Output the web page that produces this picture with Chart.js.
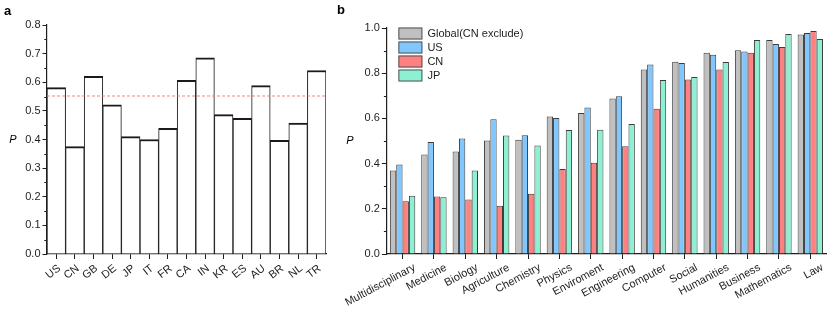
<!DOCTYPE html>
<html>
<head>
<meta charset="utf-8">
<script src="https://cdn.jsdelivr.net/npm/chart.js@4.4.1/dist/chart.umd.min.js"></script>
<style>
  html, body { margin: 0; padding: 0; background: #fff; }
  #wrap { position: relative; width: 831px; height: 315px; overflow: hidden; }
  #chart-a { position: absolute; left: 0; top: 0; }
  #chart-b { position: absolute; left: 330px; top: 0; }
</style>
</head>
<body>
<div id="wrap">
  <canvas id="chart-a" width="330" height="315"></canvas>
  <canvas id="chart-b" width="501" height="315"></canvas>
</div>
<script>
// panel a: share per country
const countries = ["US", "CN", "GB", "DE", "JP", "IT", "FR", "CA", "IN", "KR", "ES", "AU", "BR", "NL", "TR"];
const countryP = [0.581, 0.375, 0.621, 0.521, 0.410, 0.400, 0.439, 0.607, 0.685, 0.487, 0.474, 0.588, 0.397, 0.457, 0.641];
const countryRef = 0.552;

// panel b: share per field
const fields = ["Multidisciplinary", "Medicine", "Biology", "Agriculture", "Chemistry", "Physics", "Enviroment",
  "Engineering", "Computer", "Social", "Humanities", "Business", "Mathematics", "Law"];
const seriesNames = ["Global(CN exclude)", "US", "CN", "JP"];
const globalP = [0.369, 0.440, 0.454, 0.502, 0.506, 0.608, 0.624, 0.688, 0.816, 0.851, 0.891, 0.901, 0.947, 0.971];
const usP = [0.396, 0.496, 0.511, 0.596, 0.525, 0.602, 0.648, 0.698, 0.839, 0.845, 0.882, 0.896, 0.929, 0.978];
const cnP = [0.233, 0.254, 0.241, 0.214, 0.267, 0.376, 0.404, 0.477, 0.643, 0.772, 0.816, 0.890, 0.916, 0.987];
const jpP = [0.258, 0.251, 0.369, 0.524, 0.480, 0.549, 0.550, 0.575, 0.770, 0.783, 0.850, 0.947, 0.973, 0.951];

const FONT = "'Liberation Sans', Arial, sans-serif";
const INK = "#1e1e1e";
Chart.defaults.font.family = FONT;
Chart.defaults.font.size = 11;
Chart.defaults.color = INK;

// short ticks between the labelled ones
const minorTicks = {
  id: "minorTicks",
  afterDraw(chart, args, opts) {
    const y = chart.scales.y;
    const ctx = chart.ctx;
    ctx.save();
    ctx.strokeStyle = INK;
    ctx.lineWidth = 1;
    for (let v = y.min + opts.step / 2; v < y.max; v += opts.step) {
      const py = Math.round(y.getPixelForValue(v)) + 0.5;
      ctx.beginPath();
      ctx.moveTo(y.right - opts.length, py);
      ctx.lineTo(y.right, py);
      ctx.stroke();
    }
    ctx.restore();
  }
};

const panelText = {
  id: "panelText",
  afterDraw(chart, args, opts) {
    const ctx = chart.ctx;
    const area = chart.chartArea;
    ctx.save();
    ctx.fillStyle = "#000";
    ctx.font = "bold 13px " + FONT;
    ctx.textBaseline = "top";
    ctx.fillText(opts.letter, opts.letterX, opts.letterY);
    ctx.font = "italic 11px " + FONT;
    ctx.textBaseline = "middle";
    ctx.textAlign = "center";
    ctx.fillText("P", opts.titleX, (area.top + area.bottom) / 2);
    ctx.restore();
  }
};

const refLine = {
  id: "refLine",
  afterDatasetsDraw(chart, args, opts) {
    const ctx = chart.ctx;
    const area = chart.chartArea;
    const py = chart.scales.y.getPixelForValue(opts.value);
    ctx.save();
    ctx.strokeStyle = "rgba(240, 110, 110, 0.85)";
    ctx.lineWidth = 1;
    ctx.setLineDash([3, 2]);
    ctx.beginPath();
    ctx.moveTo(area.left, py);
    ctx.lineTo(area.right, py);
    ctx.stroke();
    ctx.restore();
  }
};

const boxLegend = {
  id: "boxLegend",
  afterDraw(chart, args, opts) {
    const ctx = chart.ctx;
    const x = chart.chartArea.left + opts.dx;
    let y = opts.top;
    ctx.save();
    ctx.font = "11px " + FONT;
    ctx.textBaseline = "middle";
    chart.data.datasets.forEach((ds) => {
      ctx.fillStyle = ds.backgroundColor;
      ctx.fillRect(x, y, 24, 12);
      ctx.strokeStyle = "#555";
      ctx.lineWidth = 1;
      ctx.strokeRect(x + 0.5, y + 0.5, 23, 11);
      ctx.fillStyle = INK;
      ctx.fillText(ds.label, x + 29, y + 6.5);
      y += 14;
    });
    ctx.restore();
  }
};

const axisBorder = { color: INK, width: 1.2 };

new Chart(document.getElementById("chart-a"), {
  type: "bar",
  data: {
    labels: countries,
    datasets: [{
      data: countryP,
      backgroundColor: "#fff",
      borderColor: "#1a1a1a",
      borderWidth: { top: 2, left: 1, right: 1, bottom: 0 },
      barPercentage: 1,
      categoryPercentage: 1
    }]
  },
  options: {
    responsive: false,
    animation: false,
    layout: { padding: { top: 25, right: 4, left: 0, bottom: 0 } },
    plugins: {
      legend: { display: false },
      tooltip: { enabled: false },
      refLine: { value: countryRef },
      minorTicks: { step: 0.1, length: 2.7 },
      panelText: { letter: "a", letterX: 4, letterY: 5, titleX: 13 }
    },
    scales: {
      x: {
        border: axisBorder,
        grid: { drawOnChartArea: false, offset: false, tickLength: 5, color: INK, tickWidth: 1 },
        ticks: { autoSkip: false, minRotation: 38, maxRotation: 38, padding: 3, labelOffset: 3 },
        afterFit: (scale) => { scale.height = 61; }
      },
      y: {
        min: 0,
        max: 0.8,
        border: axisBorder,
        grid: { drawOnChartArea: false, tickLength: 4.5, color: INK, tickWidth: 1 },
        ticks: { stepSize: 0.1, padding: 2, callback: (v) => v.toFixed(1) },
        afterFit: (scale) => { scale.width = 47; }
      }
    }
  },
  plugins: [refLine, minorTicks, panelText]
});

const seriesColors = ["#C0C0C0", "#80C7FF", "#FF8080", "#8EF0D2"];
const seriesValues = [globalP, usP, cnP, jpP];

new Chart(document.getElementById("chart-b"), {
  type: "bar",
  data: {
    labels: fields,
    datasets: seriesNames.map((name, i) => ({
      label: name,
      data: seriesValues[i],
      backgroundColor: seriesColors[i],
      borderColor: "#3c3c3c",
      borderWidth: 1,
      barPercentage: 1,
      categoryPercentage: 0.81
    }))
  },
  options: {
    responsive: false,
    animation: false,
    layout: { padding: { top: 28, right: 5, left: 0, bottom: 0 } },
    plugins: {
      legend: { display: false },
      tooltip: { enabled: false },
      minorTicks: { step: 0.2, length: 3 },
      panelText: { letter: "b", letterX: 7, letterY: 4, titleX: 20 },
      boxLegend: { dx: 11.5, top: 27.5 }
    },
    scales: {
      x: {
        border: axisBorder,
        grid: { drawOnChartArea: false, offset: false, tickLength: 5, color: INK, tickWidth: 1 },
        ticks: { autoSkip: false, minRotation: 28, maxRotation: 28, padding: 2, labelOffset: 12 },
        afterFit: (scale) => { scale.height = 61; }
      },
      y: {
        min: 0,
        max: 1,
        border: axisBorder,
        grid: { drawOnChartArea: false, tickLength: 5, color: INK, tickWidth: 1 },
        ticks: { stepSize: 0.2, padding: 2, callback: (v) => v.toFixed(1) },
        afterFit: (scale) => { scale.width = 56.7; }
      }
    }
  },
  plugins: [minorTicks, panelText, boxLegend]
});
</script>
</body>
</html>
